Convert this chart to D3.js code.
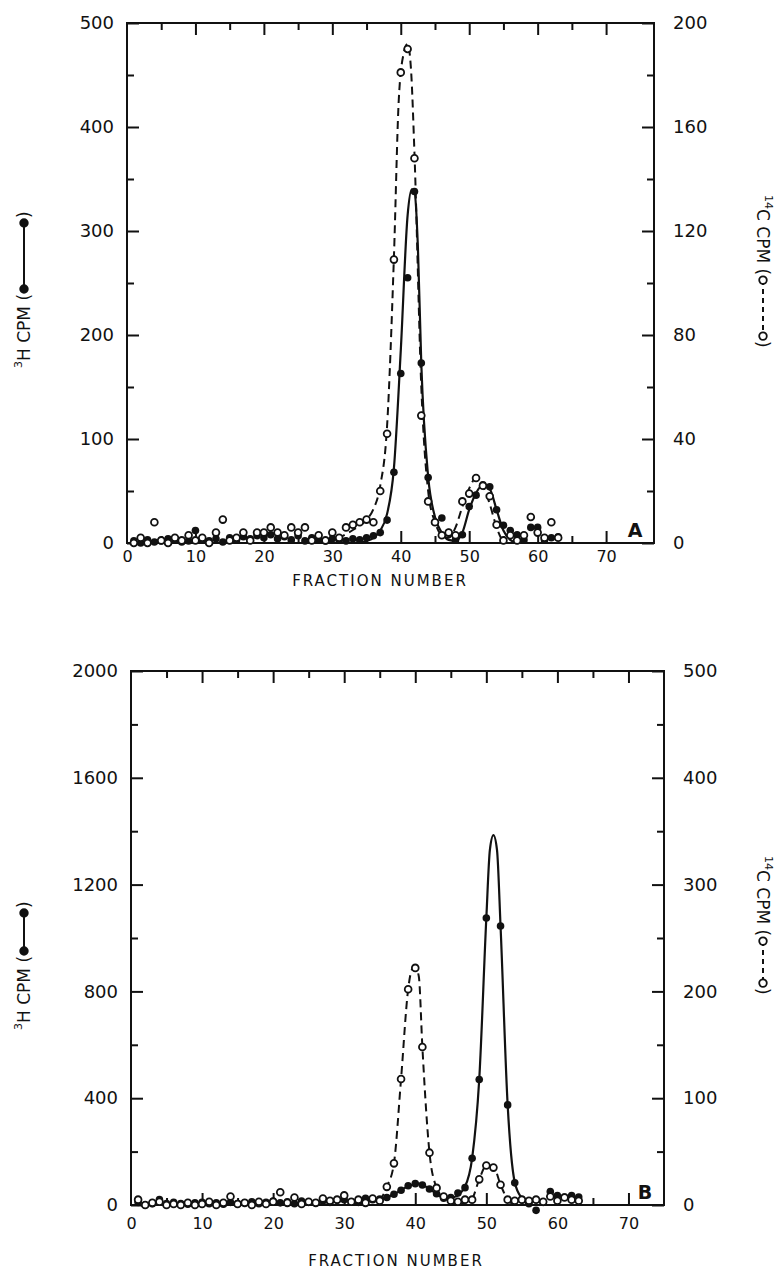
<!DOCTYPE html>
<html>
<head>
<meta charset="utf-8">
<script src="https://cdn.jsdelivr.net/npm/d3@7"></script>
<style>
  body { margin: 0; background: #fff; }
  svg { display: block; }
</style>
</head>
<body>
<div id="chart"></div>
<script>
// ---- data ----
const fractions = d3.range(1, 64);

// panel A, 3H cpm (filled dots, left axis)
const h3A = [2, 0, 3, 1, 2, 4, 3, 1, 2, 12,
  3, 2, 4, 1, 5, 3, 6, 4, 7, 5,
  8, 4, 6, 3, 7, 2, 5, 3, 2, 4,
  3, 2, 4, 3, 5, 7, 10, 22, 68, 163,
  255, 338, 173, 63, 20, 24, 10, 3, 8, 35,
  46, 56, 54, 32, 17, 12, 8, 3, 15, 15,
  3, 5, 6];
// panel A, 14C cpm (open circles, right axis)
const c14A = [0, 2, 0, 8, 1, 0, 2, 1, 3, 1,
  2, 0, 4, 9, 1, 2, 4, 1, 4, 4,
  6, 4, 3, 6, 4, 6, 1, 3, 1, 4,
  2, 6, 7, 8, 9, 8, 20, 42, 109, 181,
  190, 148, 49, 16, 8, 3, 4, 3, 16, 19,
  25, 22, 18, 7, 1, 3, 1, 3, 10, 4,
  2, 8, 2];
// hand drawn curves of panel A [fraction, cpm]
const h3CurveA = [[34, 0], [35, 2], [36, 5], [37, 12], [38, 28], [39, 72], [40, 185],
  [41, 315], [41.6, 340], [42, 338], [42.5, 285], [43, 172], [44, 64], [45, 25],
  [46, 10], [47, 3], [48, 2], [49, 10], [50, 32], [51, 48], [52, 56], [53, 52],
  [54, 32], [55, 12], [56, 3], [57, 0]];
const c14CurveA = [[29, 0], [31, 2], [33, 5], [35, 9], [36, 13], [37, 22], [38, 45],
  [39, 110], [39.7, 170], [40.4, 188], [41, 192], [41.5, 182], [42, 150], [43, 60],
  [44, 20], [45, 8], [46, 3], [47, 2], [48, 6], [49, 14], [50, 21], [51, 25],
  [52, 22], [53, 15], [54, 6], [55, 0]];

// panel B, 3H cpm (filled dots, left axis)
const h3B = [10, 0, 5, 20, 5, 10, 5, 3, 8, 10,
  5, 8, 3, 10, 5, 8, 12, 5, 10, 15,
  8, 12, 5, 15, 10, 8, 15, 10, 18, 20,
  12, 10, 25, 20, 22, 28, 40, 55, 72, 80,
  75, 60, 42, 25, 28, 45, 65, 175, 470, 1075,
  null, 1045, 375, 83, 20, 5, -20, 10, 50, 35,
  30, 35, 30];
// panel B, 14C cpm (open circles, right axis)
const c14B = [5, 0, 2, 3, 0, 1, 0, 2, 0, 1,
  3, 0, 2, 8, 1, 2, 0, 3, 1, 3,
  12, 2, 7, 1, 3, 2, 6, 4, 5, 9,
  3, 5, 2, 6, 4, 17, 39, 118, 202, 222,
  148, 49, 16, 8, 4, 3, 5, 5, 24, 37,
  35, 19, 5, 4, 5, 4, 5, 3, 8, 4,
  7, 5, 4];
const h3CurveB = [[33, 15], [35, 20], [37, 40], [39, 70], [40.5, 80], [42, 60], [44, 28],
  [45.5, 30], [47, 70], [48, 175], [49, 470], [50, 1075], [50.5, 1330], [51, 1385],
  [51.5, 1330], [52, 1045], [53, 375], [54, 85], [55, 25], [56, 2], [56.6, 0]];
const c14CurveB = [[35, 4], [36, 17], [37, 39], [38, 118], [39, 202], [39.5, 220],
  [40, 223], [40.5, 214], [41, 148], [42, 49], [43, 16], [44, 6], [45, 2], [46, 0],
  [47, 2], [48, 6], [49, 24], [50, 37], [51, 36], [52, 19], [53, 5], [54, 0]];

// axis ticks
const xMajor = [10, 20, 30, 40, 50, 60, 70];
const xMinor = [5, 15, 25, 35, 45, 55, 65];
const xLabels = [0, 10, 20, 30, 40, 50, 60, 70];
const leftMajorA = [0, 100, 200, 300, 400, 500];
const leftMinorA = [50, 150, 250, 350, 450];
const rightMajorA = [0, 40, 80, 120, 160, 200];
const rightMinorA = [20, 60, 100, 140, 180];
const leftMajorB = [0, 400, 800, 1200, 1600, 2000];
const leftMinorB = [200, 600, 1000, 1400, 1800];
const rightMajorB = [0, 100, 200, 300, 400, 500];
const rightMinorB = [50, 150, 250, 350, 450];

const INK = "#111";
const FONT = "DejaVu Sans, sans-serif";

const svg = d3.select("#chart").append("svg")
  .attr("width", 774)
  .attr("height", 1271);

// one axis side: ticks pointing inward, labels optional
function side(g, axis, tr, vals, size, pad, fs) {
  const labels = pad !== null;
  const a = axis.tickValues(vals).tickSizeInner(-size).tickSizeOuter(0)
    .tickPadding(labels ? pad : 0).tickFormat(labels ? d3.format("d") : "");
  const s = g.append("g").attr("transform", tr).call(a)
    .attr("font-family", FONT).attr("font-size", fs || 18);
  s.select(".domain").remove();
  s.selectAll("line").attr("stroke", INK).attr("stroke-width", 2);
  s.selectAll("text").attr("fill", INK);
  return s;
}

// rotated axis title with its line-symbol key
function axisTitle(g, cx, startY, dir, iso, el, filled, symLen) {
  const t = g.append("g")
    .attr("transform", `translate(${cx},${startY}) rotate(${dir})`);
  const txt = t.append("text").attr("x", 0).attr("y", 0)
    .attr("dominant-baseline", "central")
    .attr("font-family", FONT).attr("font-size", 17).attr("fill", INK);
  txt.append("tspan").attr("font-size", 11).attr("dy", -6).text(iso);
  txt.append("tspan").attr("dy", 6).text(el + " CPM (");
  const L = txt.node().getComputedTextLength();
  const a = L + 5, b = L + 5 + symLen;
  t.append("line").attr("x1", a).attr("x2", b).attr("y1", 0).attr("y2", 0)
    .attr("stroke", INK).attr("stroke-width", 2)
    .attr("stroke-dasharray", filled ? null : "5,4");
  [a, b].forEach(p => t.append("circle").attr("cx", p).attr("cy", 0).attr("r", 3.8)
    .attr("fill", filled ? INK : "#fff").attr("stroke", INK).attr("stroke-width", 1.8));
  t.append("text").attr("x", b + 5).attr("y", 0)
    .attr("dominant-baseline", "central")
    .attr("font-family", FONT).attr("font-size", 17).attr("fill", INK).text(")");
}

function drawPanel(p) {
  const x = d3.scaleLinear().domain(p.xDomain).range([p.left, p.right]);
  const yL = d3.scaleLinear().domain(p.leftDomain).range([p.bottom, p.top]);
  const yR = d3.scaleLinear().domain(p.rightDomain).range([p.bottom, p.top]);
  const g = svg.append("g");

  g.append("rect")
    .attr("x", p.left).attr("y", p.top)
    .attr("width", p.right - p.left).attr("height", p.bottom - p.top)
    .attr("fill", "none").attr("stroke", INK).attr("stroke-width", 2);

  // bottom
  side(g, d3.axisBottom(x), `translate(0,${p.bottom})`, xMajor, 12, null);
  side(g, d3.axisBottom(x), `translate(0,${p.bottom})`, xMinor, 7, null);
  side(g, d3.axisBottom(x), `translate(0,${p.bottom})`, xLabels, 0, p.xPad, 16)
    .selectAll("line").remove();
  // top
  side(g, d3.axisTop(x), `translate(0,${p.top})`, xMajor, 12, null);
  side(g, d3.axisTop(x), `translate(0,${p.top})`, xMinor, 7, null);
  // left
  side(g, d3.axisLeft(yL), `translate(${p.left},0)`, p.leftMajor, 12, 13);
  side(g, d3.axisLeft(yL), `translate(${p.left},0)`, p.leftMinor, 7, null);
  // right
  side(g, d3.axisRight(yR), `translate(${p.right},0)`, p.rightMajor, 12, 13)
    .selectAll("text").attr("x", 19);
  side(g, d3.axisRight(yR), `translate(${p.right},0)`, p.rightMinor, 7, null);

  g.append("text")
    .attr("x", p.titleX).attr("y", p.bottom + p.titleGap)
    .attr("text-anchor", "middle").attr("dominant-baseline", "central")
    .attr("font-family", FONT).attr("font-size", 15).attr("letter-spacing", 2)
    .attr("fill", INK).text("FRACTION NUMBER");

  g.append("text")
    .attr("x", p.right - 19).attr("y", p.bottom - 6)
    .attr("text-anchor", "middle")
    .attr("font-family", FONT).attr("font-size", 19).attr("font-weight", "bold")
    .attr("fill", INK).text(p.tag);

  // curves
  const lineL = d3.line().x(d => x(d[0])).y(d => yL(d[1])).curve(d3.curveMonotoneX);
  const lineR = d3.line().x(d => x(d[0])).y(d => yR(d[1])).curve(d3.curveMonotoneX);
  g.append("path").attr("d", lineR(p.c14Curve))
    .attr("fill", "none").attr("stroke", INK).attr("stroke-width", 2)
    .attr("stroke-dasharray", "8,5");
  g.append("path").attr("d", lineL(p.h3Curve))
    .attr("fill", "none").attr("stroke", INK).attr("stroke-width", 2.2);

  // points
  const h3pts = fractions.map((f, i) => [f, p.h3[i]]).filter(d => d[1] !== null);
  const c14pts = fractions.map((f, i) => [f, p.c14[i]]).filter(d => d[1] !== null);
  g.append("g").selectAll("circle").data(h3pts).join("circle")
    .attr("cx", d => x(d[0])).attr("cy", d => yL(d[1])).attr("r", 3.8)
    .attr("fill", INK);
  g.append("g").selectAll("circle").data(c14pts).join("circle")
    .attr("cx", d => x(d[0])).attr("cy", d => yR(d[1])).attr("r", 3.4)
    .attr("fill", "#fff").attr("stroke", INK).attr("stroke-width", 1.8);

  axisTitle(g, 24, p.leftTitleStart, -90, "3", "H", true, p.leftSym);
  axisTitle(g, 763, p.rightTitleStart, 90, "14", "C", false, p.rightSym);
}

drawPanel({
  tag: "A",
  xDomain: [0, 77], left: 127, right: 654,
  leftDomain: [0, 500], rightDomain: [0, 200], top: 23, bottom: 543,
  leftMajor: leftMajorA, leftMinor: leftMinorA,
  rightMajor: rightMajorA, rightMinor: rightMinorA,
  h3: h3A, c14: c14A, h3Curve: h3CurveA, c14Curve: c14CurveA,
  xPad: 8, titleX: 380, titleGap: 38,
  leftTitleStart: 368, leftSym: 66, rightTitleStart: 195, rightSym: 56
});

drawPanel({
  tag: "B",
  xDomain: [0, 75], left: 131, right: 664,
  leftDomain: [0, 2000], rightDomain: [0, 500], top: 671, bottom: 1205,
  leftMajor: leftMajorB, leftMinor: leftMinorB,
  rightMajor: rightMajorB, rightMinor: rightMinorB,
  h3: h3B, c14: c14B, h3Curve: h3CurveB, c14Curve: c14CurveB,
  xPad: 13, titleX: 396, titleGap: 56,
  leftTitleStart: 1030, leftSym: 38, rightTitleStart: 856, rightSym: 42
});
</script>
</body>
</html>
